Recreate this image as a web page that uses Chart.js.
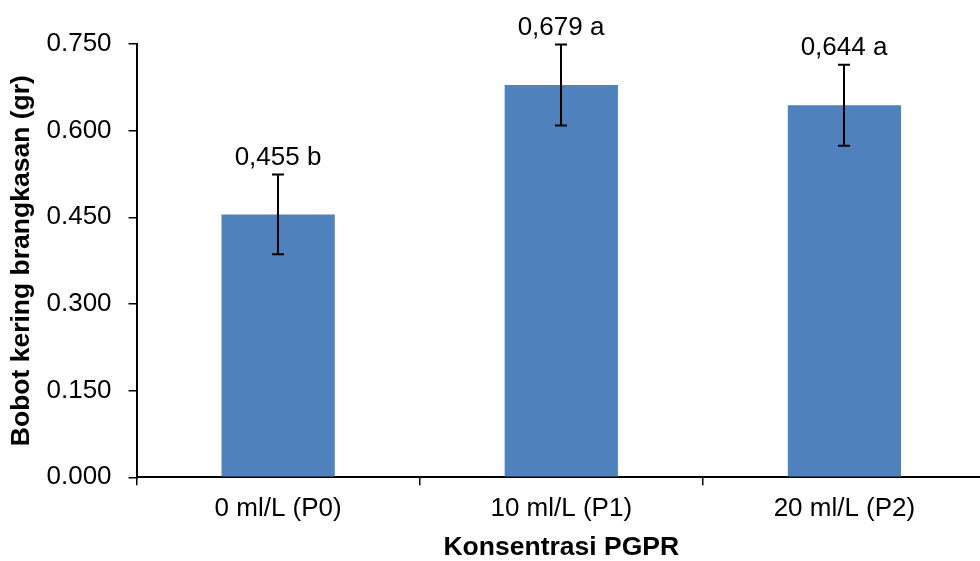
<!DOCTYPE html>
<html>
<head>
<meta charset="utf-8">
<script src="https://cdn.jsdelivr.net/npm/chart.js@4/dist/chart.umd.min.js"></script>
<style>
  html, body { margin: 0; padding: 0; background: #fff; overflow: hidden; }
  #wrap { width: 988px; height: 561px; position: relative; }
</style>
</head>
<body>
<div id="wrap"><canvas id="myChart"></canvas></div>
<script>
const categories = ['0 ml/L (P0)', '10 ml/L (P1)', '20 ml/L (P2)'];
const values = [0.455, 0.679, 0.644];
const errors = [0.069, 0.070, 0.070];
const letters = ['b', 'a', 'a'];
const yTicks = [0, 0.15, 0.3, 0.45, 0.6, 0.75];

const FONT = '"Liberation Sans", Arial, sans-serif';

function commaNum(n) {
  return n.toFixed(3).replace('.', ',');
}

// error bars + value labels drawn on top of the bars
const errorBarPlugin = {
  id: 'errorBars',
  afterDatasetsDraw(chart) {
    const ctx = chart.ctx;
    const y = chart.scales.y;
    const meta = chart.getDatasetMeta(0);
    ctx.save();
    ctx.strokeStyle = '#000';
    ctx.lineWidth = 2;
    meta.data.forEach((bar, i) => {
      const cx = Math.round(bar.x);
      const top = y.getPixelForValue(values[i] + errors[i]);
      const bot = y.getPixelForValue(values[i] - errors[i]);
      ctx.beginPath();
      ctx.moveTo(cx, top);
      ctx.lineTo(cx, bot);
      ctx.moveTo(cx - 6, top);
      ctx.lineTo(cx + 6, top);
      ctx.moveTo(cx - 6, bot);
      ctx.lineTo(cx + 6, bot);
      ctx.stroke();

      ctx.fillStyle = '#000';
      ctx.font = `26px ${FONT}`;
      ctx.textAlign = 'center';
      ctx.textBaseline = 'alphabetic';
      ctx.fillText(`${commaNum(values[i])} ${letters[i]}`, cx, top - 10);
    });
    ctx.restore();
  },
};

const chart = new Chart(document.getElementById('myChart').getContext('2d'), {
  type: 'bar',
  data: {
    labels: categories,
    datasets: [{
      data: values,
      backgroundColor: '#4F81BD',
      borderWidth: 0,
      barPercentage: 0.4,
      categoryPercentage: 1,
    }],
  },
  options: {
    responsive: true,
    maintainAspectRatio: false,
    animation: false,
    layout: { padding: { top: 44, right: 2, left: 8, bottom: 0 } },
    plugins: {
      legend: { display: false },
      tooltip: { enabled: false },
    },
    scales: {
      x: {
        grid: { drawOnChartArea: false, drawTicks: true, tickLength: 8, color: '#000', lineWidth: 1.5, offset: true },
        border: { color: '#000', width: 2 },
        ticks: { color: '#000', font: { family: FONT, size: 26 }, padding: 8, maxRotation: 0 },
        title: { display: true, text: 'Konsentrasi PGPR', color: '#000', font: { family: FONT, size: 26.5, weight: 'bold', lineHeight: 1 }, padding: { top: 2, bottom: 0 } },
      },
      y: {
        min: 0,
        max: 0.75,
        afterBuildTicks: (axis) => { axis.ticks = yTicks.map((v) => ({ value: v })); },
        grid: { drawOnChartArea: false, drawTicks: true, tickLength: 8, color: '#000', lineWidth: 1.5 },
        border: { color: '#000', width: 2 },
        ticks: { color: '#000', font: { family: FONT, size: 26 }, padding: 17, callback: (v) => Number(v).toFixed(3) },
        title: { display: true, text: 'Bobot kering brangkasan (gr)', color: '#000', font: { family: FONT, size: 26.5, weight: 'bold', lineHeight: 1 }, padding: { top: 0, bottom: -5 } },
      },
    },
  },
  plugins: [errorBarPlugin],
});
</script>
</body>
</html>
